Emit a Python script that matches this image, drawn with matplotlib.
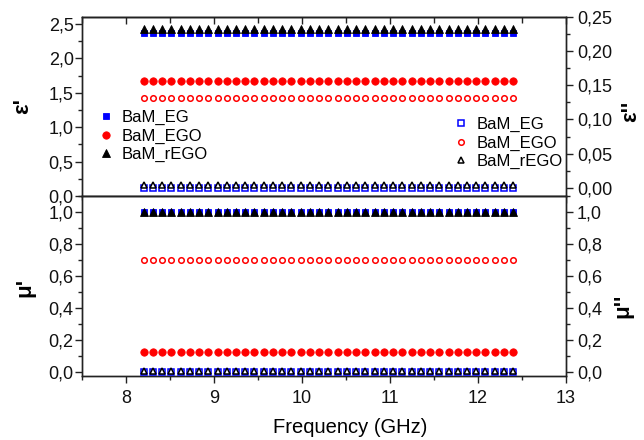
import matplotlib
matplotlib.use("Agg")
import matplotlib.pyplot as plt
from matplotlib.ticker import MultipleLocator, FuncFormatter

plt.rcParams['font.family'] = ['Liberation Sans', 'DejaVu Sans']

# Frequency sweep over the X band (GHz)
freq = [8.2, 8.305, 8.41, 8.515, 8.62, 8.725, 8.83, 8.935, 9.04, 9.145,
        9.25, 9.355, 9.46, 9.565, 9.67, 9.775, 9.88, 9.985, 10.09, 10.195,
        10.3, 10.405, 10.51, 10.615, 10.72, 10.825, 10.93, 11.035, 11.14,
        11.245, 11.35, 11.455, 11.56, 11.665, 11.77, 11.875, 11.98, 12.085,
        12.19, 12.295, 12.4]
n = len(freq)

samples = ['BaM_EG', 'BaM_EGO', 'BaM_rEGO']

# Real / imaginary permittivity
eps_r_EG = [2.37] * n
eps_r_EGO = [1.67] * n
eps_r_rEGO = [2.43] * n
eps_i_EG = [0.000] * n
eps_i_EGO = [0.131] * n
eps_i_rEGO = [0.004] * n

# Real / imaginary permeability
mu_r_EG = [1.0] * n
mu_r_EGO = [0.13] * n
mu_r_rEGO = [1.0] * n
mu_i_EG = [0.0] * n
mu_i_EGO = [0.70] * n
mu_i_rEGO = [0.006] * n

colors = ['#0000ff', '#ff0000', '#000000']
markers = ['s', 'o', '^']
fill_sizes = [4.3, 5.3, 6.2]
open_sizes = [4.0, 4.0, 5.0]

fig = plt.figure(figsize=(6.44, 4.4), dpi=100)
L, R = 82 / 644, 566 / 644
top_ax = fig.add_axes([L, 1 - 196 / 440, R - L, (196 - 17) / 440])
bot_ax = fig.add_axes([L, 1 - 375.7 / 440, R - L, (375.7 - 196) / 440])
top_tw = top_ax.twinx()
bot_tw = bot_ax.twinx()


def comma(decimals):
    return FuncFormatter(lambda v, p: f"{v:.{decimals}f}".replace('.', ','))


def draw(ax, tw, filled, hollow):
    for vals, c, m, s, lab in zip(filled, colors, markers, fill_sizes, samples):
        ax.plot(freq, vals, linestyle='none', marker=m, ms=s, color=c,
                mec=c, mew=0.6, label=lab, clip_on=False, zorder=3)
    for vals, c, m, s, lab in zip(hollow, colors, markers, open_sizes, samples):
        tw.plot(freq, vals, linestyle='none', marker=m, ms=s, mfc='white',
                mec=c, mew=1.1, label=lab, clip_on=False, zorder=3)


draw(top_ax, top_tw, [eps_r_EG, eps_r_EGO, eps_r_rEGO],
     [eps_i_EG, eps_i_EGO, eps_i_rEGO])
draw(bot_ax, bot_tw, [mu_r_EG, mu_r_EGO, mu_r_rEGO],
     [mu_i_EG, mu_i_EGO, mu_i_rEGO])

top_ax.set_ylim(0, 2.6)
top_tw.set_ylim(-0.012, 0.25)
bot_ax.set_ylim(-0.02, 1.1)
bot_tw.set_ylim(-0.025, 1.1)

for ax in (top_ax, bot_ax):
    ax.set_xlim(7.5, 13)
    ax.xaxis.set_major_locator(MultipleLocator(1))
    ax.xaxis.set_minor_locator(MultipleLocator(0.5))

top_ax.yaxis.set_major_locator(MultipleLocator(0.5))
top_ax.yaxis.set_minor_locator(MultipleLocator(0.25))
top_ax.yaxis.set_major_formatter(comma(1))
top_tw.yaxis.set_major_locator(MultipleLocator(0.05))
top_tw.yaxis.set_minor_locator(MultipleLocator(0.025))
top_tw.yaxis.set_major_formatter(comma(2))
for ax in (bot_ax, bot_tw):
    ax.yaxis.set_major_locator(MultipleLocator(0.2))
    ax.yaxis.set_minor_locator(MultipleLocator(0.1))
    ax.yaxis.set_major_formatter(comma(1))
bot_ax.xaxis.set_major_formatter(FuncFormatter(lambda v, p: f"{v:.0f}"))

for ax in (top_ax, bot_ax, top_tw, bot_tw):
    for sp in ax.spines.values():
        sp.set_linewidth(1.0)
        sp.set_color('#222222')
    ax.tick_params(which='major', length=5, width=1.0, color='#222222',
                   labelsize=13, labelcolor='#111111')
    ax.tick_params(which='minor', length=3, width=1.0, color='#222222')

for ax in (top_ax, bot_ax):
    ax.tick_params(axis='y', which='both', direction='out', pad=1)
for tw in (top_tw, bot_tw):
    tw.tick_params(axis='y', which='both', direction='out', pad=3)

top_ax.tick_params(axis='x', which='both', direction='out', top=False,
                   bottom=True, labelbottom=False)
bot_ax.tick_params(axis='x', which='both', direction='out', top=False,
                   bottom=True, pad=5)

top_sec = top_ax.secondary_xaxis('top')
top_sec.xaxis.set_major_locator(MultipleLocator(1))
top_sec.xaxis.set_minor_locator(MultipleLocator(0.5))
top_sec.tick_params(which='both', direction='in', labeltop=False,
                    width=1.0, color='#222222')
top_sec.tick_params(which='major', length=5)
top_sec.tick_params(which='minor', length=4)
top_sec.spines['top'].set_linewidth(1.0)
top_sec.spines['top'].set_color('#222222')

lab_kw = dict(fontsize=16, fontweight='bold')
top_ax.set_ylabel("ε'", **lab_kw)
top_tw.set_ylabel("ε''", **lab_kw)
bot_ax.set_ylabel("μ'", **lab_kw)
bot_tw.set_ylabel("μ''", **lab_kw)
top_ax.yaxis.set_label_coords(-0.101, 0.5)
top_tw.yaxis.set_label_coords(1.112, 0.47)
bot_ax.yaxis.set_label_coords(-0.097, 0.49)
bot_tw.yaxis.set_label_coords(1.095, 0.39)
bot_ax.set_xlabel("Frequency (GHz)", fontsize=14.5, labelpad=8)
bot_ax.xaxis.label.set_x(0.554)

leg_kw = dict(frameon=False, fontsize=12, handlelength=1.0,
              handletextpad=0.45, labelspacing=0.2, borderpad=0,
              borderaxespad=0, loc='upper left')
top_ax.legend(bbox_to_anchor=(0.0324, 0.479), **leg_kw)
top_tw.legend(bbox_to_anchor=(0.765, 0.44), **leg_kw)

fig.savefig("out.png", dpi=100)
